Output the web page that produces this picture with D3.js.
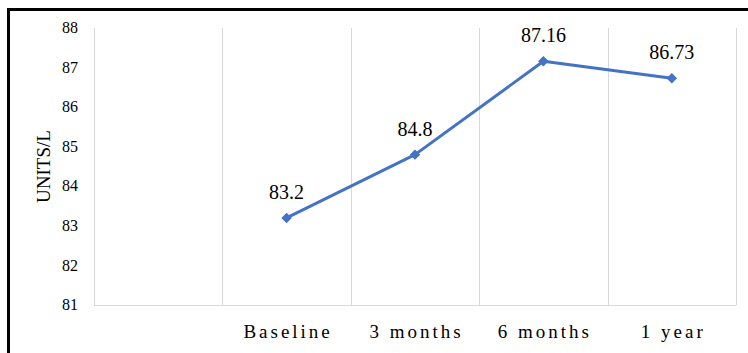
<!DOCTYPE html>
<html>
<head>
<meta charset="utf-8">
<script src="https://cdn.jsdelivr.net/npm/d3@7"></script>
<style>body{margin:0}</style>
</head>
<body>
<svg id="chart" width="748" height="353"></svg>
<script>
// Category slots along the x axis (the first slot is left empty)
const categories = ["", "Baseline", "3 months", "6 months", "1 year"];
// Measured values per time point
const timepoints = ["Baseline", "3 months", "6 months", "1 year"];
const values = [83.2, 84.8, 87.16, 86.73];
// Y axis ticks
const yTicks = [81, 82, 83, 84, 85, 86, 87, 88];
const yTitle = "UNITS/L";

const svg = d3.select("#chart");
const plot = { left: 94, right: 736, top: 28, bottom: 305 };

// Outer frame
svg.append("rect")
  .attr("x", 8.5).attr("y", 9.5)
  .attr("width", 800).attr("height", 400)
  .attr("fill", "none").attr("stroke", "#000").attr("stroke-width", 3);

const x = d3.scaleBand().domain(categories).range([plot.left, plot.right]).padding(0);
const y = d3.scaleLinear().domain([81, 88]).range([plot.bottom, plot.top]);

// Vertical category gridlines
const gridXs = categories.map(c => x(c)).concat([x.range()[1]]);
svg.append("g").selectAll("line").data(gridXs).join("line")
  .attr("x1", d => Math.round(d) + 0.5).attr("x2", d => Math.round(d) + 0.5)
  .attr("y1", plot.top).attr("y2", plot.bottom)
  .attr("stroke", "#d9d9d9").attr("stroke-width", 1);

// Horizontal baseline
svg.append("line")
  .attr("x1", plot.left).attr("x2", plot.right)
  .attr("y1", plot.bottom + 0.5).attr("y2", plot.bottom + 0.5)
  .attr("stroke", "#d9d9d9").attr("stroke-width", 1);

// Serif text helper
const serif = (sel, size) => sel.style("font-family", "'Liberation Serif'").attr("font-size", size);

// Y axis tick labels, drawn from the scale's ticks
const gy = svg.append("g");
gy.selectAll("text").data(yTicks).join("text")
  .attr("x", plot.left - 16)
  .attr("y", d => y(d))
  .attr("dy", "0.32em")
  .attr("text-anchor", "end")
  .call(serif, 16)
  .text(d3.format("d"));

// X axis labels, centred in each band
const gx = svg.append("g");
gx.selectAll("text").data(timepoints).join("text")
  .attr("x", d => x(d) + x.bandwidth() / 2 + 1.5)
  .attr("y", plot.bottom + 33)
  .attr("text-anchor", "middle")
  .attr("letter-spacing", 3)
  .call(serif, 19)
  .text(d => d);

// Y axis title
svg.append("text")
  .attr("transform", `translate(50,${(plot.top + plot.bottom) / 2}) rotate(-90)`)
  .attr("text-anchor", "middle")
  .call(serif, 19)
  .text(yTitle);

// Line series
const cx = d => x(d) + x.bandwidth() / 2;
const pts = timepoints.map((t, i) => [cx(t), y(values[i])]);

svg.append("path")
  .datum(pts)
  .attr("d", d3.line())
  .attr("fill", "none").attr("stroke", "#4472C4").attr("stroke-width", 3)
  .attr("stroke-linejoin", "round");

// Diamond markers
svg.append("g").selectAll("path").data(pts).join("path")
  .attr("transform", d => `translate(${d[0]},${d[1]})`)
  .attr("d", d3.symbol(d3.symbolDiamond2, 70)())
  .attr("fill", "#4472C4");

// Value labels
svg.append("g").selectAll("text").data(timepoints).join("text")
  .attr("x", t => cx(t))
  .attr("y", (t, i) => y(values[i]) - 19)
  .attr("text-anchor", "middle")
  .call(serif, 20)
  .text((t, i) => String(values[i]));
</script>
</body>
</html>
